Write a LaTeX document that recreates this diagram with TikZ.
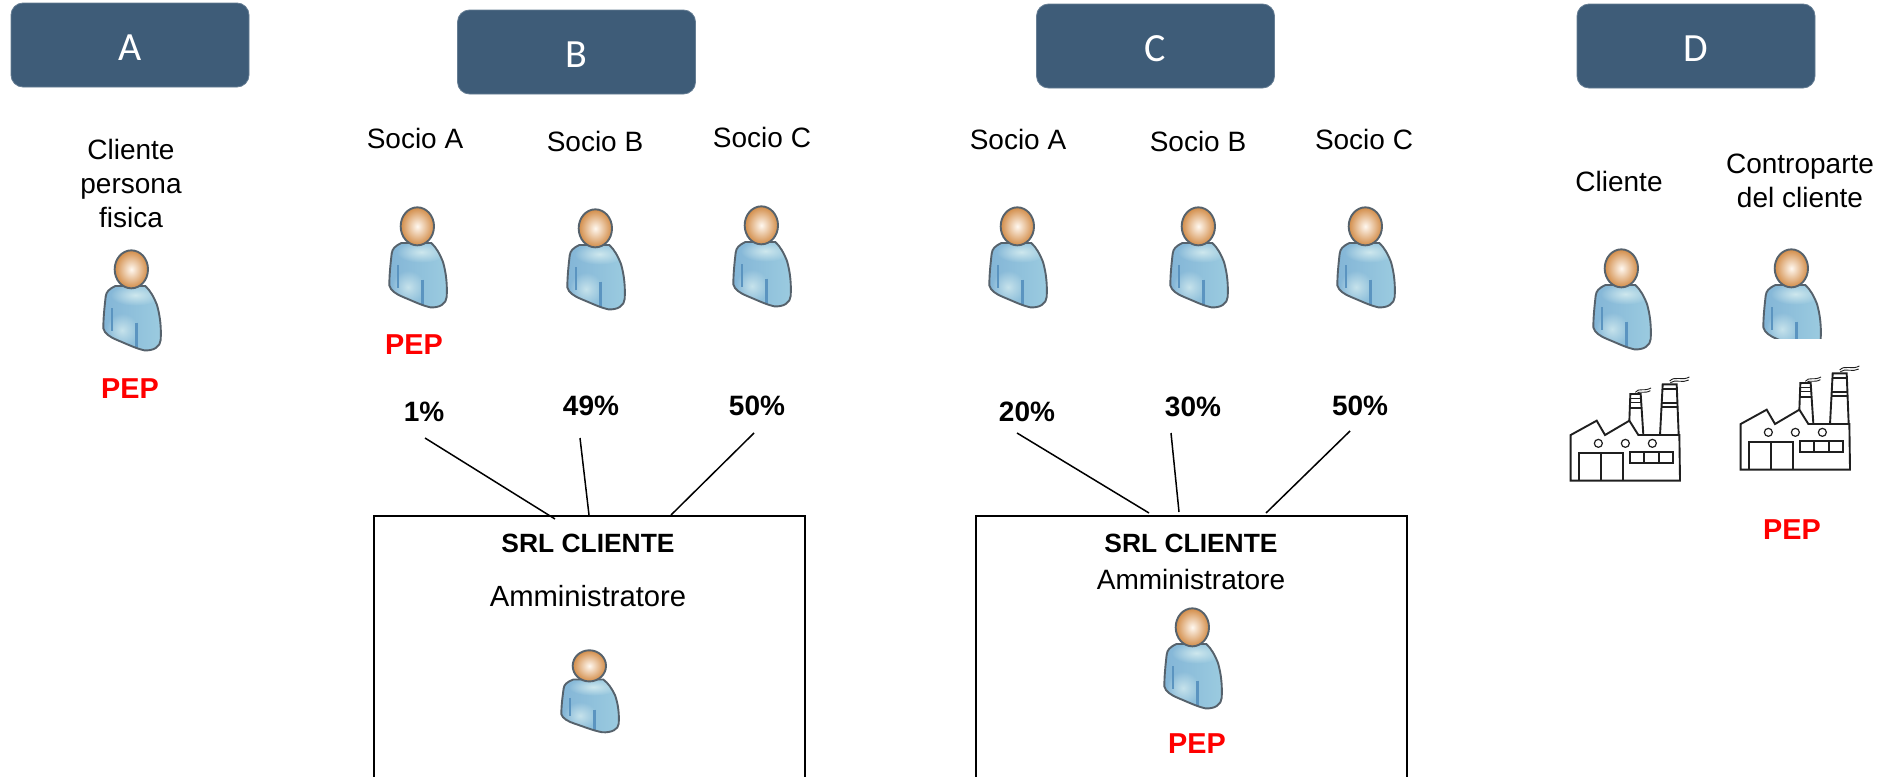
\documentclass[tikz,border=0pt]{standalone}
\usepackage{fontspec}
\setmainfont{Liberation Sans}
\newfontfamily\headfont{Carlito}
\usetikzlibrary{fadings}
\tikzfading[name=softblob,inner color=transparent!0,outer color=transparent!100]
\definecolor{headbg}{HTML}{3E5C78}
\definecolor{pepred}{HTML}{FF0000}
\definecolor{skinin}{HTML}{FFF8F0}
\definecolor{skinout}{HTML}{D28C48}
\definecolor{outl}{HTML}{56626C}
\definecolor{bodyA}{HTML}{82B4D6}
\definecolor{bodyB}{HTML}{9CCCE0}
\definecolor{bodyL}{HTML}{D5ECF0}
\definecolor{fold}{HTML}{5B94C0}
\tikzset{
  x=0.5pt,y=-0.5pt,
  header/.style={fill=headbg,draw=headbg!80!white,line width=0.4pt,rounded corners=6pt,minimum width=119pt,minimum height=42pt,inner sep=0pt,text=white,text height=15pt,text depth=0pt,font=\headfont\fontsize{20pt}{24pt}\selectfont},
  txt/.style={anchor=base,inner sep=0pt,font=\fontsize{14pt}{17pt}\selectfont,align=center},
  adm/.style={anchor=base,inner sep=0pt,font=\fontsize{14.6pt}{17pt}\selectfont},
  pep/.style={anchor=base,inner sep=0pt,text=pepred,font=\bfseries\fontsize{14.4pt}{17pt}\selectfont},
  pct/.style={anchor=base,inner sep=0pt,font=\bfseries\fontsize{14pt}{17pt}\selectfont},
  srl/.style={anchor=base,inner sep=0pt,font=\bfseries\fontsize{13.2pt}{16pt}\selectfont},
  clientbox/.style={draw=black,line width=0.85pt,anchor=north west,inner sep=0pt,minimum width=215.5pt,minimum height=150pt},
  link/.style={draw=black,line width=0.75pt},
  pics/person/.style={code={
    \begin{scope}[x=0.16667pt,y=-0.16667pt,shift={(-305,-750)}]
      \def\bodypath{(345,858) .. controls (325,868) and (318,875) .. (316,890)
        .. controls (312,925) and (309,955) .. (309,985)
        .. controls (312,1000) and (330,1012) .. (350,1020)
        .. controls (380,1032) and (405,1045) .. (432,1051)
        .. controls (460,1053) and (480,1040) .. (481,1020)
        .. controls (483,985) and (480,950) .. (470,915)
        .. controls (460,890) and (450,872) .. (435,858) -- cycle}
      \begin{scope}
        \clip \bodypath;
        \shade[left color=bodyA,right color=bodyB] (300,840) rectangle (490,1060);
        \fill[bodyL,path fading=softblob,opacity=.9] (405,885) ellipse [x radius=75,y radius=32];
        \fill[bodyL,path fading=softblob,opacity=.8] (365,990) ellipse [x radius=50,y radius=50];
        \draw[fold,line width=1pt] (335,925) -- (335,992);
        \draw[fold,line width=1.4pt] (408,968) -- (408,1048);
      \end{scope}
      \draw[outl,line width=0.95pt,line join=round] \bodypath;
      \shade[inner color=skinin,outer color=skinout,draw=outl,line width=0.95pt] (393,808) ellipse [x radius=50,y radius=57];
    \end{scope}
  }},
  pics/factory/.style={code={
    \begin{scope}[x=0.16667pt,y=-0.16667pt,line width=0.95pt,draw=black!88,line join=miter]
      \draw (92,992) -- (92,855) -- (170,812) -- (195,855) -- (268,812) -- (295,855) -- (418,855) -- (420,992) -- cycle;
      \draw (268,812) -- (271,732) -- (302,732) -- (310,855);
      \draw (360,855) -- (368,703) -- (410,703) -- (416,855);
      \draw[line width=0.7pt] (270,745) -- (303,745) (270,757) -- (304,757);
      \draw (269,775) -- (305,775);
      \draw[line width=0.7pt] (367,717) -- (411,717);
      \draw (365,760) -- (413,760) (364,770) -- (414,770);
      \draw[line width=0.6pt] (175,880) circle [radius=12] (256,880) circle [radius=12] (337,880) circle [radius=12];
      \draw (117,992) -- (117,908) -- (248,908) -- (248,992) (184,908) -- (184,992);
      \draw (270,907) rectangle (400,940) (313,907) -- (313,940) (357,907) -- (357,940);
      \draw[line width=0.45pt] (286,727) .. controls (296,712) and (310,726) .. (333,714);
      \draw[line width=0.45pt] (288,732) .. controls (298,720) and (312,733) .. (331,722);
      \draw[line width=0.45pt] (389,693) .. controls (405,676) and (425,694) .. (448,681);
      \draw[line width=0.45pt] (391,698) .. controls (407,686) and (427,701) .. (446,690);
    \end{scope}
  }}
}
\begin{document}
\begin{tikzpicture}
\useasboundingbox (0,0) rectangle (1888,776);
\clip (0,0) rectangle (1888,776);
\fill[white] (0,0) rectangle (1888,776);
% headers
\node[header] (hA) at (130,45) {A};
\node[header] (hB) at (576.5,52) {B};
\node[header] (hC) at (1155.5,46) {C};
\node[header] (hD) at (1696,46) {D};
% panel A
\node[txt] (cpf) at (131,227) {Cliente\\persona\\fisica};
\pic at (102,250) {person};
\node[pep] (pepA) at (130,398) {PEP};
% panel B
\node[txt] (bsa) at (415,148) {Socio A};
\node[txt] (bsb) at (595,151) {Socio B};
\node[txt] (bsc) at (762,147) {Socio C};
\pic at (388,207) {person};
\pic at (566,209) {person};
\pic at (732,206) {person};
\node[pep] (pepB) at (414,354) {PEP};
\node[pct] (b1) at (424,421) {1\%};
\node[pct] (b2) at (591,415) {49\%};
\node[pct] (b3) at (757,415) {50\%};
\node[clientbox] (boxB) at (373,515) {};
\node[srl] (srlB) at (588,552) {SRL CLIENTE};
\node[adm] (admB) at (588,606) {Amministratore};
\pic[yscale=0.82] at (560,650) {person};
\coordinate (b1s) at (425,438);
\coordinate (b2s) at (580,438);
\coordinate (b3s) at (754,433);
\coordinate (b1e) at (555,519);
\coordinate (b2e) at (589,515);
\coordinate (b3e) at (671,515);
\draw[link] (b1s) -- (b1e);
\draw[link] (b2s) -- (b2e);
\draw[link] (b3s) -- (b3e);
% panel C
\node[txt] (csa) at (1018,149) {Socio A};
\node[txt] (csb) at (1198,151) {Socio B};
\node[txt] (csc) at (1364,149) {Socio C};
\pic at (988,207) {person};
\pic at (1169,207) {person};
\pic at (1336,207) {person};
\node[pct] (c1) at (1027,421) {20\%};
\node[pct] (c2) at (1193,416) {30\%};
\node[pct] (c3) at (1360,415) {50\%};
\node[clientbox] (boxC) at (975,515) {};
\node[srl] (srlC) at (1191,552) {SRL CLIENTE};
\node[txt] (admC) at (1191,589) {Amministratore};
\pic at (1163,608) {person};
\node[pep] (pepC) at (1197,753) {PEP};
\coordinate (c1s) at (1017,433);
\coordinate (c2s) at (1171,433);
\coordinate (c3s) at (1350,431);
\coordinate (c1e) at (1149,513);
\coordinate (c2e) at (1179,512);
\coordinate (c3e) at (1266,513);
\draw[link] (c1s) -- (c1e);
\draw[link] (c2s) -- (c2e);
\draw[link] (c3s) -- (c3e);
% panel D
\node[txt] (dcl) at (1619,191) {Cliente};
\node[txt] (dco) at (1800,207) {Controparte\\del cliente};
\pic at (1592,249) {person};
\begin{scope}
  \clip (1740,240) rectangle (1830,338);
  \pic at (1762,249) {person};
\end{scope}
\pic at (1540,150) {factory};
\pic at (1710,139) {factory};
\node[pep] (pepD) at (1792,539) {PEP};
\end{tikzpicture}
\end{document}
